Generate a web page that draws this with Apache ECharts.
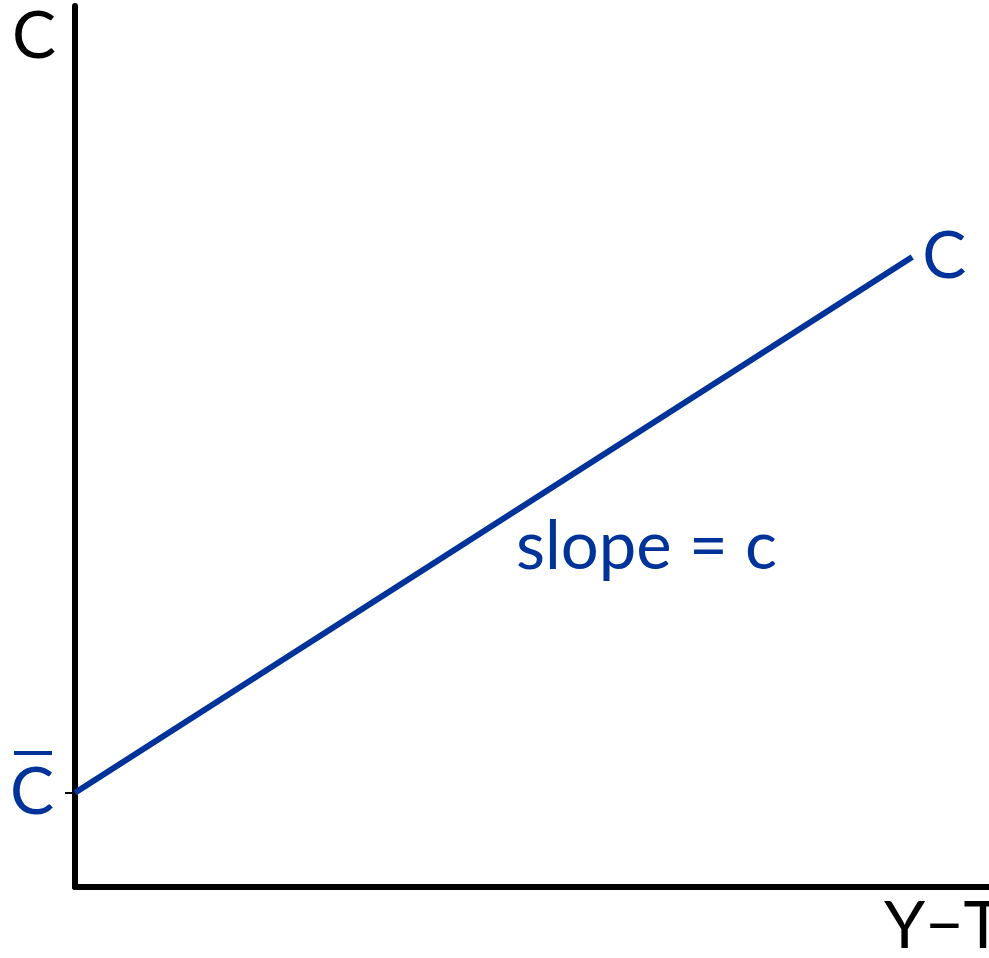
<!DOCTYPE html>
<html>
<head>
<meta charset="utf-8">
<script src="https://cdn.jsdelivr.net/npm/echarts@6/dist/echarts.min.js"></script>
<style>
  html, body { margin: 0; padding: 0; background: #fff; }
  #chart { width: 989px; height: 958px; }
</style>
</head>
<body>
<div id="chart"></div>
<script>
// consumption line: C = Cbar + c (Y - T)
const incomeX = [0, 91.6];
const consumptionY = [10.7, 71.5];
const interceptTicks = [10.7];

const blue = '#003399';
const font = 'Lato, "Open Sans", sans-serif';

const chart = echarts.init(document.getElementById('chart'));

chart.setOption({
  animation: false,
  grid: { left: 75, right: 0, top: 6, bottom: 71 },
  xAxis: {
    type: 'value', min: 0, max: 100,
    axisLine: { show: true, onZero: false, lineStyle: { color: '#000', width: 6 } },
    axisTick: { show: false },
    axisLabel: { show: false },
    splitLine: { show: false }
  },
  yAxis: {
    type: 'value', min: 0, max: 100,
    axisLine: { show: true, onZero: false, lineStyle: { color: '#000', width: 6 } },
    axisTick: {
      show: true, inside: false, length: 10,
      customValues: interceptTicks,
      lineStyle: { color: '#000', width: 2 }
    },
    axisLabel: {
      show: true,
      customValues: interceptTicks,
      formatter: () => 'C',
      color: blue, fontFamily: font, fontSize: 66, margin: 21
    },
    splitLine: { show: false }
  },
  series: [{
    type: 'line',
    data: incomeX.map((x, i) => [x, consumptionY[i]]),
    symbol: 'none',
    lineStyle: { color: blue, width: 6 },
    endLabel: {
      show: true, formatter: 'C', color: blue,
      fontFamily: font, fontSize: 66, distance: 10
    }
  }],
  graphic: [
    { type: 'text', left: 12, top: 4,
      style: { text: 'C', fill: '#000', font: '66px ' + font } },
    { type: 'text', left: 884, top: 894,
      style: { text: 'Y\u2212T', fill: '#000', font: '66px ' + font } },
    { type: 'text', left: 516, top: 514,
      style: { text: 'slope = c', fill: blue, font: '67px ' + font } },
    { type: 'rect', shape: { x: 14, y: 751, width: 38, height: 4 },
      style: { fill: blue } }
  ]
});
</script>
</body>
</html>
